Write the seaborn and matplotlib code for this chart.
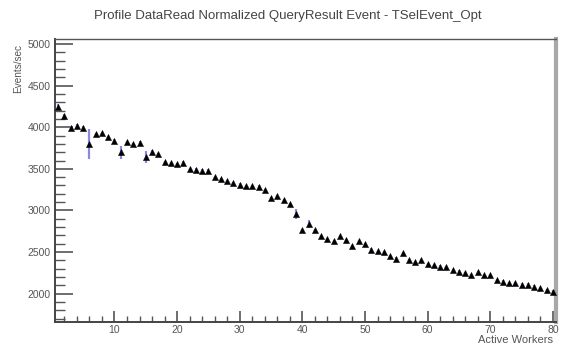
import matplotlib
matplotlib.use("Agg")
import matplotlib.pyplot as plt
from matplotlib.ticker import MultipleLocator, FuncFormatter
import seaborn as sns
import pandas as pd

title = "Profile DataRead Normalized QueryResult Event - TSelEvent_Opt"
x_label = "Active Workers"
y_label = "Events/sec"

workers = list(range(1, 81))
events = [4245, 4140, 3985, 4020, 3995, 3800, 3920, 3930, 3880, 3840,
          3700, 3820, 3800, 3815, 3640, 3700, 3678, 3580, 3565, 3560,
          3575, 3500, 3490, 3480, 3480, 3400, 3375, 3355, 3330, 3310,
          3295, 3290, 3285, 3245, 3150, 3175, 3120, 3075, 2955, 2760,
          2840, 2760, 2690, 2660, 2630, 2690, 2640, 2570, 2630, 2595,
          2530, 2515, 2500, 2450, 2420, 2485, 2405, 2380, 2405, 2355,
          2340, 2325, 2315, 2285, 2265, 2245, 2225, 2255, 2225, 2225,
          2165, 2145, 2130, 2125, 2110, 2110, 2085, 2070, 2045, 2025]
errors = [40, 15, 30, 15, 15, 180, 15, 15, 15, 15,
          80, 15, 15, 15, 70, 25, 15, 15, 15, 15,
          15, 15, 15, 15, 15, 15, 15, 15, 15, 15,
          15, 15, 15, 15, 15, 15, 15, 20, 60, 15,
          50, 15, 15, 15, 15, 15, 15, 15, 15, 15,
          15, 15, 15, 15, 15, 15, 15, 15, 15, 15,
          15, 15, 15, 15, 15, 15, 15, 15, 15, 15,
          15, 15, 15, 15, 15, 15, 15, 15, 15, 15]

df = pd.DataFrame({"workers": workers, "events": events, "err": errors})

sns.set_theme(style="white")
plt.rcParams['font.family'] = ['Liberation Sans', 'DejaVu Sans']

fig = plt.figure(figsize=(5.62, 3.51), dpi=100)
ax = fig.add_axes([55/562, 1-322/351, (556-55)/562, (322-39)/351])

ax.errorbar(df["workers"], df["events"], yerr=df["err"], fmt="none",
            ecolor="#8a8ae6", elinewidth=1.6, capsize=0, zorder=2)
sns.scatterplot(data=df, x="workers", y="events", marker="^", s=20,
                color="black", edgecolor="black", linewidth=0.3, ax=ax, zorder=3)

ax.set_xlim(0.5, 80.5)
ax.set_ylim(1660, 5060)
ax.xaxis.set_major_locator(MultipleLocator(10))
ax.xaxis.set_minor_locator(MultipleLocator(2))
ax.yaxis.set_major_locator(MultipleLocator(500))
ax.yaxis.set_minor_locator(MultipleLocator(100))
ax.tick_params(axis="both", which="both", direction="in", colors="#555555",
               labelcolor="#555555", labelsize=7.5, left=True, bottom=True,
               top=False, right=False)
ax.tick_params(axis="y", which="major", length=13, width=1.2, pad=3)
ax.tick_params(axis="y", which="minor", length=7, width=1.0)
ax.tick_params(axis="x", which="major", length=8, width=1.2, pad=2)
ax.tick_params(axis="x", which="minor", length=4, width=1.0)
ax.xaxis.set_major_formatter(FuncFormatter(
    lambda v, p: "" if v == 0 else f"{int(v)}"))

for s in ["left", "bottom"]:
    ax.spines[s].set_color("#444444")
    ax.spines[s].set_linewidth(1.4)
ax.spines["top"].set_color("#555555")
ax.spines["top"].set_linewidth(1.0)
ax.spines["right"].set_color("#a8a8a8")
ax.spines["right"].set_linewidth(3)

ax.set_xlabel("")
ax.set_ylabel("")
fig.text(553/562, 1-340/351, x_label, ha="right", va="center",
         fontsize=8, color="#555555")
fig.text(18/562, 1-44/351, y_label, ha="center", va="top", rotation=90,
         fontsize=7.2, color="#555555")
fig.text(0.512, 1-16/351, title, ha="center", va="center",
         fontsize=9.5, color="#444444")

fig.savefig("out.png", dpi=100)
